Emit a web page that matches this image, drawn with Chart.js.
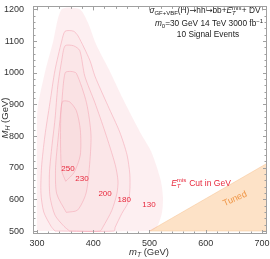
<!DOCTYPE html>
<html><head><meta charset="utf-8">
<script src="https://cdn.jsdelivr.net/npm/chart.js@4/dist/chart.umd.min.js"></script>
<style>html,body{margin:0;padding:0;background:#fff;}canvas{display:block;}</style>
</head><body>
<canvas id="c" width="270" height="259"></canvas>
<script>
// ---- axis ticks ----
const xTicks = [300, 400, 500, 600, 700];
const yTicks = [500, 600, 700, 800, 900, 1000, 1100, 1200];

// ---- contour regions (E_T^mis cut levels, GeV) ----
const c130X = [300, 300, 302, 314, 329, 344, 376, 391, 405, 428, 452, 483, 503, 520, 524, 522, 513, 500];
const c130Y = [500, 850, 900, 1000, 1100, 1200, 1200, 1156, 1090, 1010, 920, 813, 751, 660, 605, 556, 512, 500];

const c180X = [332, 325, 312, 307, 308, 314, 323, 332, 344, 350, 365, 373, 394, 403, 426, 447, 460, 465, 465, 462, 451, 439, 437];
const c180Y = [500, 515, 560, 620, 700, 800, 905, 1008, 1100, 1131, 1131, 1116, 1039, 989, 896, 813, 741, 680, 627, 590, 556, 512, 500];

const c200X = [358, 348, 332, 323, 322, 326, 332, 337, 344, 350, 365, 376, 385, 403, 421, 439, 444, 442, 433, 417, 412];
const c200Y = [500, 515, 550, 610, 680, 760, 853, 958, 1039, 1085, 1085, 1070, 989, 905, 813, 710, 658, 618, 565, 512, 500];

const c230X = [352, 335, 333, 338, 344, 350, 360, 370, 388, 396, 393, 387, 372];
const c230Y = [559, 618, 700, 800, 905, 1000, 1004, 998, 905, 803, 698, 618, 566];

const c250X = [351, 344, 342, 342, 343, 346, 358, 370, 377, 377, 366];
const c250Y = [657, 690, 760, 840, 890, 910, 908, 880, 820, 740, 685];

// Tuned region
const tunedX = [500, 712, 712];
const tunedY = [500, 717, 500];

// contour label values and positions
const levelLabels = ['130', '180', '200', '230', '250'];
const labelX = [499, 455, 421, 380, 355];
const labelY = [584, 599, 618, 664, 698];

const FAM = '"Liberation Sans", Arial, sans-serif';
const ARROWFAM = '"DejaVu Sans", sans-serif';

function poly(xs, ys) {
  const pts = xs.map((x, i) => ({x: x, y: ys[i]}));
  pts.push({x: xs[0], y: ys[0]});
  return pts;
}

const pinkLine = 'rgba(244,165,180,0.8)';

function region(xs, ys, border, fillCol) {
  return {
    data: poly(xs, ys), showLine: true, fill: 'shape',
    backgroundColor: fillCol, borderColor: border ? pinkLine : 'rgba(0,0,0,0)',
    borderWidth: border ? 0.7 : 0, pointRadius: 0, tension: 0.25
  };
}

function rich(ctx, parts, x, y, size, color, align) {
  const f = (s, it, fam) => (it ? 'italic ' : '') + s + 'px ' + (fam || FAM);
  const small = size * 0.72;
  const widths = parts.map(p => {
    if (p.stack) {
      ctx.font = f(small, false); const a = ctx.measureText(p.sup || '').width;
      ctx.font = f(small, true); const b = ctx.measureText(p.sub || '').width;
      return Math.max(a, b) + 0.5;
    }
    ctx.font = f(p.pos ? small : size, p.it, p.fam);
    return ctx.measureText(p.t).width;
  });
  const total = widths.reduce((a, b) => a + b, 0);
  let cx = align === 'center' ? x - total / 2 : x;
  ctx.fillStyle = color; ctx.textBaseline = 'alphabetic'; ctx.textAlign = 'left';
  parts.forEach((p, i) => {
    if (p.stack) {
      ctx.font = f(small, false); ctx.fillText(p.sup, cx, y - size * 0.42);
      ctx.font = f(small, true); ctx.fillText(p.sub, cx, y + size * 0.22);
    } else {
      ctx.font = f(p.pos ? small : size, p.it, p.fam);
      const dy = p.pos === 'sub' ? size * 0.25 : p.pos === 'sup' ? -size * 0.4 : 0;
      ctx.fillText(p.t, cx, y + dy);
    }
    cx += widths[i];
  });
}

const decor = {
  id: 'decor',
  afterDatasetsDraw(chart) {
    const ctx = chart.ctx, xs = chart.scales.x, ys = chart.scales.y;
    ctx.save();
    // contour labels
    ctx.font = '8px ' + FAM; ctx.fillStyle = 'rgb(232,40,60)';
    ctx.textAlign = 'center'; ctx.textBaseline = 'middle';
    levelLabels.forEach((t, i) => ctx.fillText(t, xs.getPixelForValue(labelX[i]), ys.getPixelForValue(labelY[i])));
    // Tuned label
    ctx.save();
    ctx.translate(xs.getPixelForValue(652), ys.getPixelForValue(602));
    ctx.rotate(-24 * Math.PI / 180);
    ctx.font = '9px ' + FAM; ctx.fillStyle = 'rgb(240,150,70)';
    ctx.fillText('Tuned', 0, 0);
    ctx.restore();
    // E_T^mis cut label
    rich(ctx, [{t: 'E', it: true}, {stack: true, sup: 'mis', sub: 'T'}, {t: ' Cut in GeV'}], 201, 186, 8.5, 'rgb(232,40,60)', 'center');
    // top-right annotation
    const dark = '#222';
    rich(ctx, [{t: 'σ', it: true}, {t: 'GF+VBF', pos: 'sub'}, {t: '(H)'}, {t: '→', fam: ARROWFAM}, {t: 'hh'},
               {t: '→', fam: ARROWFAM}, {t: 'bb+'}, {t: 'E', it: true},
               {stack: true, sup: 'mis', sub: 'T'}, {t: '+ DV'}], 205, 13, 8.3, dark, 'center');
    rich(ctx, [{t: 'm', it: true}, {t: '0', pos: 'sub'}, {t: '=30 GeV 14 TeV 3000 fb'}, {t: '−1', pos: 'sup'}], 209, 26, 8.3, dark, 'center');
    rich(ctx, [{t: '10 Signal Events'}], 208, 37, 8.3, dark, 'center');
    // axis titles
    rich(ctx, [{t: 'm', it: true}, {t: 'T', it: true, pos: 'sub'}, {t: ' (GeV)'}], 149, 255, 9.5, '#333', 'center');
    ctx.save();
    ctx.translate(8, 118); ctx.rotate(-Math.PI / 2);
    rich(ctx, [{t: 'M', it: true}, {t: 'H', it: true, pos: 'sub'}, {t: ' (GeV)'}], 0, 0, 9.5, '#333', 'center');
    ctx.restore();
    ctx.restore();
  },
  afterDraw(chart) {
    const ctx = chart.ctx, a = chart.chartArea, xs = chart.scales.x, ys = chart.scales.y;
    ctx.save();
    ctx.strokeStyle = '#a0a0a0'; ctx.lineWidth = 1;
    ctx.strokeRect(Math.round(a.left) + 0.5, Math.round(a.top) + 0.5, Math.round(a.right - a.left) - 1, Math.round(a.bottom - a.top) - 1);
    ctx.beginPath();
    for (let v = xTicks[0]; v <= xTicks[xTicks.length - 1]; v += 20) {
      const px = Math.round(xs.getPixelForValue(v)) + 0.5;
      const L = xTicks.includes(v) ? 4 : 2.5;
      ctx.moveTo(px, a.bottom); ctx.lineTo(px, a.bottom - L);
      ctx.moveTo(px, a.top); ctx.lineTo(px, a.top + L);
    }
    for (let v = yTicks[0]; v <= yTicks[yTicks.length - 1]; v += 20) {
      const py = Math.round(ys.getPixelForValue(v)) + 0.5;
      const L = yTicks.includes(v) ? 4 : 2.5;
      ctx.moveTo(a.left, py); ctx.lineTo(a.left + L, py);
      ctx.moveTo(a.right, py); ctx.lineTo(a.right - L, py);
    }
    ctx.stroke();
    ctx.restore();
  }
};

new Chart(document.getElementById('c'), {
  type: 'scatter',
  data: {
    datasets: [
      region(c250X, c250Y, true, 'rgba(240,100,120,0.035)'),
      region(c230X, c230Y, true, 'rgba(240,100,120,0.035)'),
      region(c200X, c200Y, true, 'rgba(240,100,120,0.035)'),
      region(c180X, c180Y, true, 'rgba(240,100,120,0.035)'),
      region(c130X, c130Y, false, 'rgba(240,100,120,0.1)'),
      {data: poly(tunedX, tunedY), showLine: true, fill: 'shape', backgroundColor: 'rgba(250,190,130,0.45)',
       borderColor: 'rgba(245,180,120,0.6)', borderWidth: 0.6, pointRadius: 0}
    ]
  },
  options: {
    responsive: false, animation: false, devicePixelRatio: 1,
    layout: {padding: {top: 2, right: 3, left: 0, bottom: 0}},
    plugins: {legend: {display: false}, tooltip: {enabled: false}},
    scales: {
      x: {
        type: 'linear', min: 292.9, max: 708.9,
        afterBuildTicks: s => { s.ticks = xTicks.map(v => ({value: v})); },
        afterFit: s => { s.height = 25; },
        grid: {display: false}, border: {display: false},
        ticks: {font: {family: FAM, size: 9}, color: '#333', padding: -4, maxRotation: 0,
                callback: v => String(v)}
      },
      y: {
        type: 'linear', min: 490.7, max: 1209.3,
        afterBuildTicks: s => { s.ticks = yTicks.map(v => ({value: v})); },
        afterFit: s => { s.width = 33; },
        grid: {display: false}, border: {display: false},
        ticks: {font: {family: FAM, size: 9}, color: '#333', padding: 1,
                callback: v => String(v)}
      }
    }
  },
  plugins: [decor]
});
</script>
</body></html>
